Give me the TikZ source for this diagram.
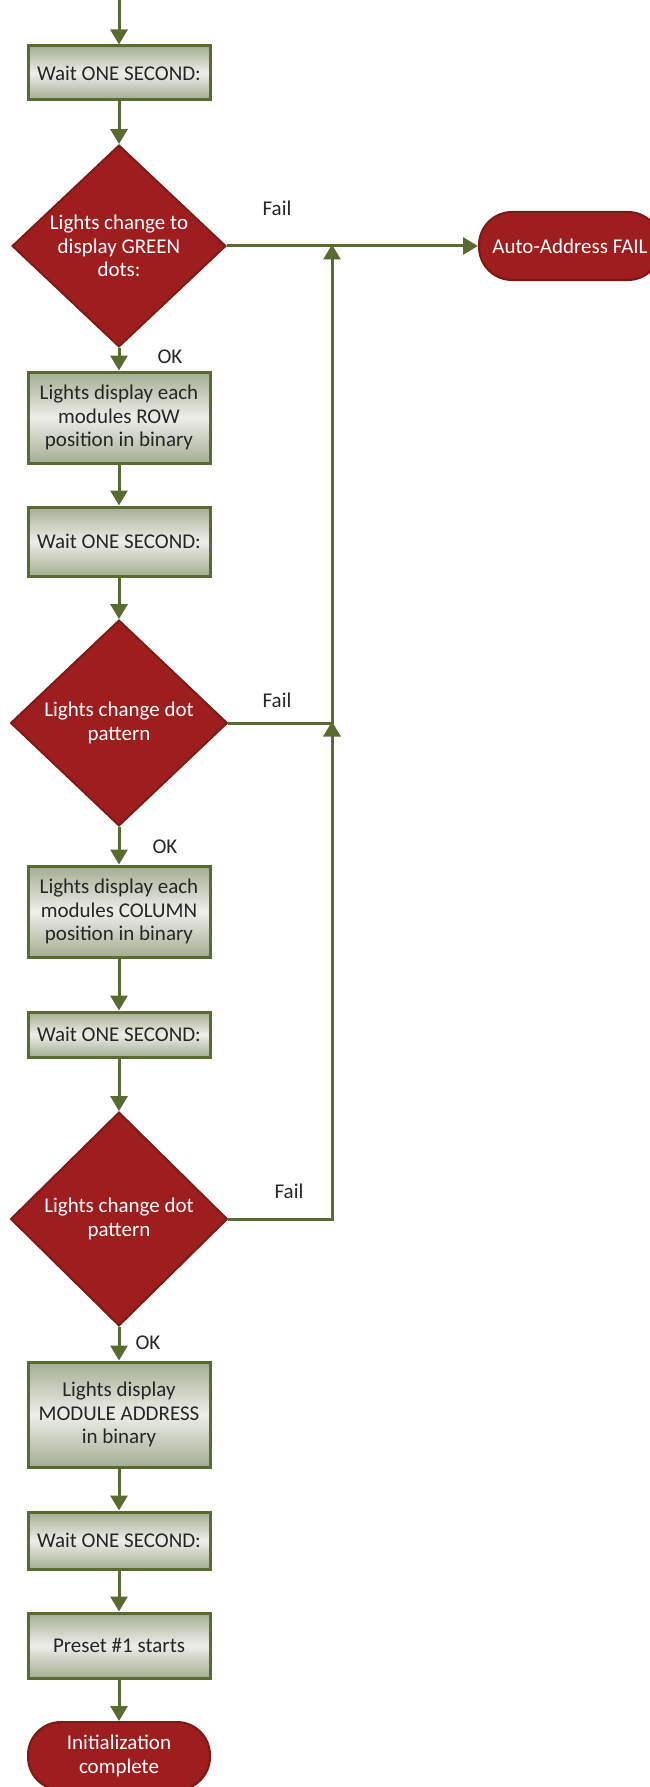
\documentclass[tikz,border=0pt]{standalone}
\usepackage{fontspec}
\setmainfont{Carlito}
\usetikzlibrary{shapes.geometric,arrows.meta}
\definecolor{grn}{HTML}{5A6B32}
\definecolor{boxedge}{HTML}{A3AD92}
\definecolor{boxmid}{HTML}{EDEEE9}
\definecolor{dred}{HTML}{9E1D1F}
\definecolor{dredb}{HTML}{7A1A16}
\definecolor{txt}{HTML}{262626}
\tikzset{
  procbox/.style={rectangle, draw=grn, line width=3pt, minimum width=182pt,
    top color=boxedge, bottom color=boxedge, middle color=boxmid,
    text=txt, align=center, inner sep=0pt, font=\fontsize{21}{23.5}\selectfont},
  decision/.style={diamond, draw=dredb, line width=1.8pt, fill=dred, inner sep=0pt},
  dtext/.style={text=white, align=center, font=\fontsize{21}{23.5}\selectfont},
  term/.style={rectangle, rounded corners=33pt, draw=dredb, line width=2pt, fill=dred,
    minimum width=182pt, minimum height=68pt, text=white, align=center,
    inner sep=0pt, font=\fontsize{21}{23.5}\selectfont},
  lbl/.style={text=txt, font=\fontsize{21}{23.5}\selectfont, inner sep=0pt},
  flow/.style={draw=grn, line width=3pt, -{Triangle[width=17pt,length=15pt]}},
  plain/.style={draw=grn, line width=3pt}
}
\begin{document}
\begin{tikzpicture}[x=1pt,y=-1pt]
\useasboundingbox (0,0) rectangle (650,1787);
\coordinate (top) at (119,0);
\node[procbox, minimum height=54pt] (w1) at (119,73) {Wait ONE SECOND:};
\node[decision, minimum width=214pt, minimum height=202pt] (d1) at (119,246) {};
\node[dtext] at (d1) {Lights change to\\display GREEN\\dots:};
\node[term] (fail) at (570,246) {Auto-Address FAIL};
\node[procbox, minimum height=91pt] (b2) at (119,417.5) {Lights display each\\modules ROW\\position in binary};
\node[procbox, minimum height=69pt] (w2) at (119,541.5) {Wait ONE SECOND:};
\node[decision, minimum width=217pt, minimum height=206pt] (d2) at (119,723) {};
\node[dtext] at (d2) {Lights change dot\\pattern};
\node[procbox, minimum height=91pt] (b4) at (119,911.5) {Lights display each\\modules COLUMN\\position in binary};
\node[procbox, minimum height=45pt] (w3) at (119,1034.5) {Wait ONE SECOND:};
\node[decision, minimum width=217pt, minimum height=214pt] (d3) at (119,1219) {};
\node[dtext] at (d3) {Lights change dot\\pattern};
\node[procbox, minimum height=105pt] (b6) at (119,1414.5) {Lights display\\MODULE ADDRESS\\in binary};
\node[procbox, minimum height=57pt] (w4) at (119,1540.5) {Wait ONE SECOND:};
\node[procbox, minimum height=65pt] (b8) at (119,1645.5) {Preset \#1 starts};
\node[term] (done) at (119,1756) {Initialization\\complete};
\coordinate (j1) at (332,246);
\coordinate (j2) at (332,723);
\coordinate (j3) at (332,1219);
\node[lbl] (f1) at (277,208) {Fail};
\node[lbl] (f2) at (277,700) {Fail};
\node[lbl] (f3) at (289,1191) {Fail};
\node[lbl] (ok1) at (170,357) {OK};
\node[lbl] (ok2) at (165,847) {OK};
\node[lbl] (ok3) at (148,1343) {OK};
\draw[flow] (top) -- (w1);
\draw[flow] (w1) -- (d1);
\draw[flow] (d1.east) -- (fail.west);
\draw[flow] (d1.south) -- (b2);
\draw[flow] (b2) -- (w2);
\draw[flow] (w2) -- (d2);
\draw[flow] (d2.south) -- (b4);
\draw[flow] (b4) -- (w3);
\draw[flow] (w3) -- (d3);
\draw[flow] (d3.south) -- (b6);
\draw[flow] (b6) -- (w4);
\draw[flow] (w4) -- (b8);
\draw[flow] (b8) -- (done);
\draw[plain] (d2.east) -- (j2);
\draw[plain] (d3.east) -- (j3) -- (j2);
\draw[flow] (j3) -- ([yshift=1.5pt]j2);
\draw[flow] (j2) -- ([yshift=1.5pt]j1);
\end{tikzpicture}
\end{document}
